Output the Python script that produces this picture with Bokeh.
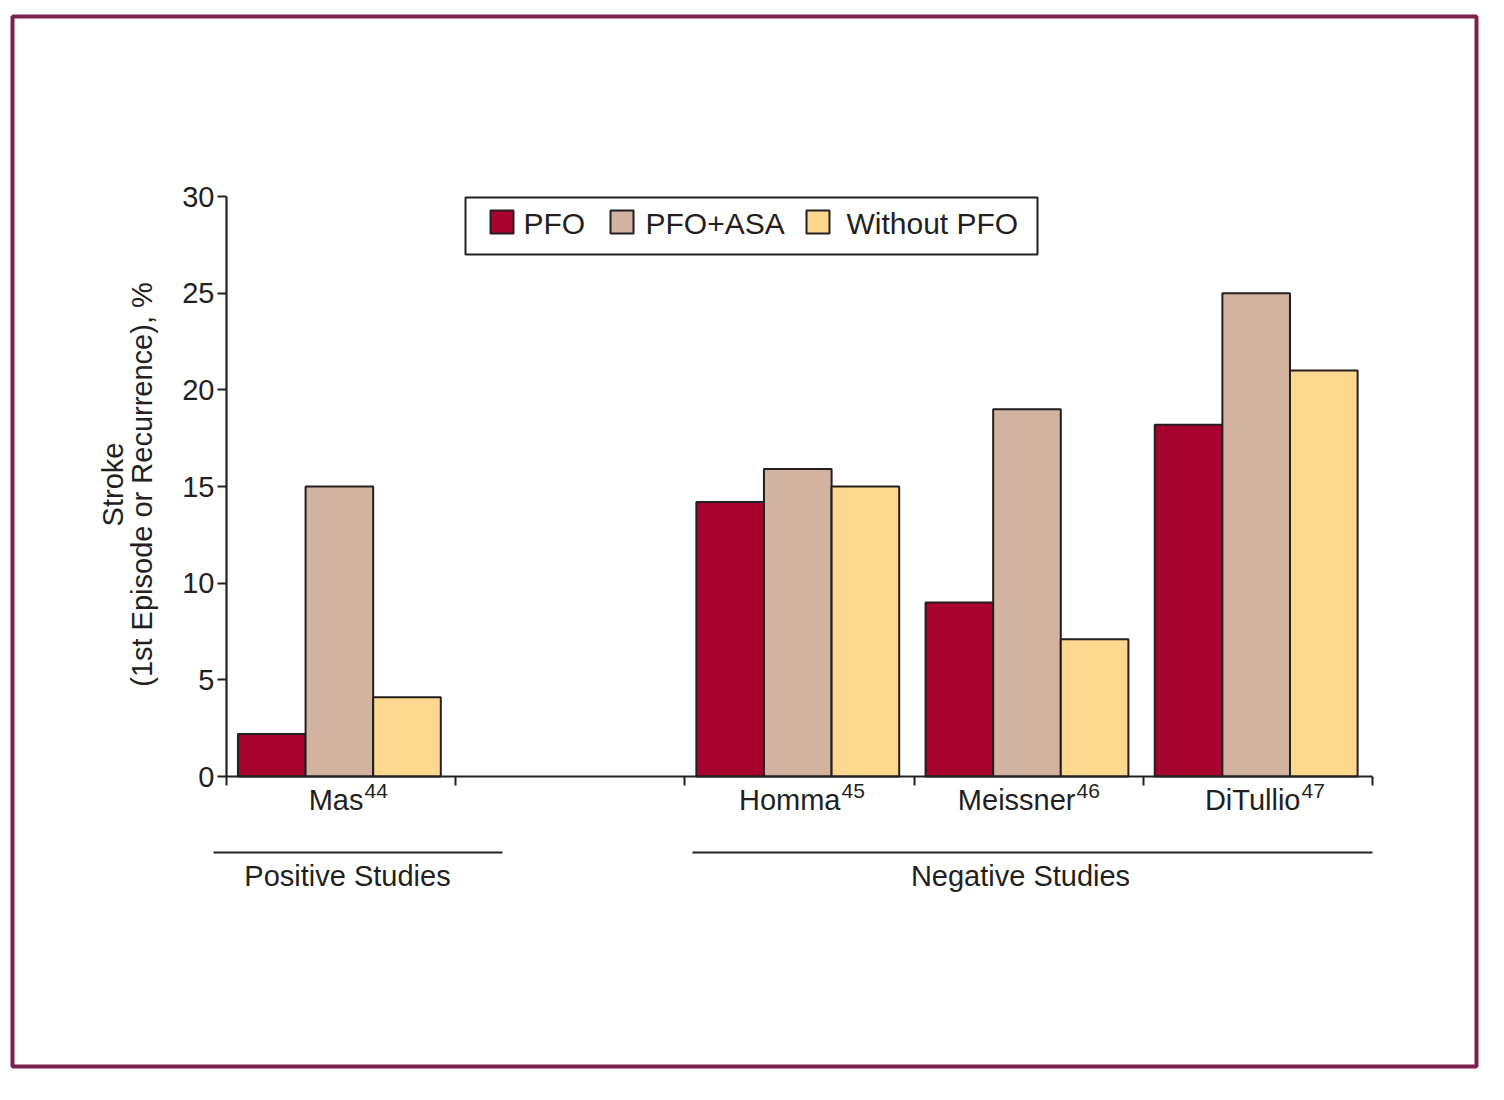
from math import pi

from bokeh.plotting import figure
from bokeh.models import Range1d, FixedTicker, Label
from bokeh.embed import file_html
from bokeh.resources import INLINE

# ---------------- data ----------------
studies = ["Mas", "Homma", "Meissner", "DiTullio"]
refs = ["44", "45", "46", "47"]
series = ["PFO", "PFO+ASA", "Without PFO"]
pfo = [2.2, 14.2, 9.0, 18.2]
pfo_asa = [15.0, 15.9, 19.0, 25.0]
without_pfo = [4.1, 15.0, 7.1, 21.0]
groups = ["Positive Studies", "Negative Studies"]
y_ticks = [0, 5, 10, 15, 20, 25, 30]
y_title = ["Stroke", "(1st Episode or Recurrence), %"]

# ---------------- layout / style ----------------
slots = [0, 2, 3, 4]          # slot of each study on the x axis (slot 1 left empty)
n_slots = 5
y_max = 30
colors = ["#A6032F", "#D2B39F", "#FDD88E"]
ink = "#231F20"
frame_col = "#7B2150"
FONT = "Liberation Sans"
FS = "29px"
bar_w = 0.295
bar_off = 0.05

W, H = 1500, 1096
# axis placement on the page, in pixels
AX_L, AX_R, AX_B, AX_T = 226.0, 1372.0, 776.0, 196.0
XS = (AX_R - AX_L) / n_slots
YS = (AX_B - AX_T) / y_max


def dx(px):
    return (px - AX_L) / XS


def dy(py):
    return (AX_B - py) / YS


p = figure(width=W, height=H, output_backend="svg", toolbar_location=None,
           x_range=Range1d(dx(0), dx(W)), y_range=Range1d(dy(H), dy(0)),
           min_border=0, title=None)
p.outline_line_color = None
p.xgrid.visible = False
p.ygrid.visible = False
p.background_fill_color = "white"
p.border_fill_color = "white"

# bars
for k, vals in enumerate([pfo, pfo_asa, without_pfo]):
    xs = [s + bar_off + (k + 0.5) * bar_w for s in slots]
    p.vbar(x=xs, top=vals, bottom=0, width=bar_w, fill_color=colors[k],
           line_color=ink, line_width=2)

# axes, pinned at the data origin
xa, ya = p.xaxis[0], p.yaxis[0]
xa.fixed_location = 0
xa.bounds = (0, n_slots)
ya.fixed_location = 0
ya.bounds = (0, y_max)
for ax in (xa, ya):
    ax.axis_line_color = ink
    ax.axis_line_width = 2.2
    ax.major_tick_line_color = ink
    ax.major_tick_line_width = 2
    ax.major_tick_out = 9
    ax.major_tick_in = 0
    ax.minor_tick_line_color = None

xa.ticker = FixedTicker(ticks=list(range(n_slots + 1)))
xa.major_label_overrides = {i: "" for i in range(n_slots + 1)}
xa.major_label_text_font_size = "1px"

ya.ticker = FixedTicker(ticks=y_ticks)
ya.major_label_text_font = FONT
ya.major_label_text_font_size = FS
ya.major_label_text_color = ink
ya.major_label_standoff = 3

# y title (two rotated lines)
for txt, px in zip(y_title, [112, 141]):
    p.add_layout(Label(x=dx(px), y=dy(484), text=txt, angle=pi / 2,
                       text_align="center", text_baseline="middle",
                       text_font=FONT, text_font_size=FS, text_color=ink))

# category labels with superscript references
junction_px = [363, 840, 1075, 1300]
for name, ref, jx in zip(studies, refs, junction_px):
    p.add_layout(Label(x=dx(jx), y=dy(799), text=name, text_align="right",
                       text_baseline="alphabetic", text_font=FONT,
                       text_font_size=FS, text_color=ink))
    p.add_layout(Label(x=dx(jx + 1), y=dy(790), text=ref, text_align="left",
                       text_baseline="alphabetic", text_font=FONT,
                       text_font_size="21px", text_color=ink))

# group brackets
group_lines = [(213, 502), (692, 1372)]
group_centers = [347, 1020]
p.segment(x0=[dx(a) for a, b in group_lines], x1=[dx(b) for a, b in group_lines],
          y0=[dy(852)] * 2, y1=[dy(852)] * 2, line_color=ink, line_width=2)
for g, cx in zip(groups, group_centers):
    p.add_layout(Label(x=dx(cx), y=dy(875), text=g, text_align="center",
                       text_baseline="alphabetic", text_font=FONT,
                       text_font_size=FS, text_color=ink))

# legend (drawn by hand to match the original box)
p.quad(left=[dx(465)], right=[dx(1037)], top=[dy(197)], bottom=[dy(254)],
       fill_color="white", line_color=ink, line_width=2)
sq_px = [490, 610, 806]
txt_px = [523, 645, 846]
p.quad(left=[dx(s) for s in sq_px], right=[dx(s + 23) for s in sq_px],
       top=[dy(210)] * 3, bottom=[dy(233)] * 3, fill_color=colors,
       line_color=ink, line_width=2)
for k, tx in enumerate(txt_px):
    p.add_layout(Label(x=dx(tx), y=dy(223), text=series[k], text_align="left",
                       text_baseline="alphabetic", text_font=FONT,
                       text_font_size="30px", text_color=ink))

# outer frame
p.quad(left=[dx(12)], right=[dx(1476)], top=[dy(16)], bottom=[dy(1066)],
       fill_color=None, line_color=frame_col, line_width=4)

open("out.html", "w").write(file_html(p, INLINE))
